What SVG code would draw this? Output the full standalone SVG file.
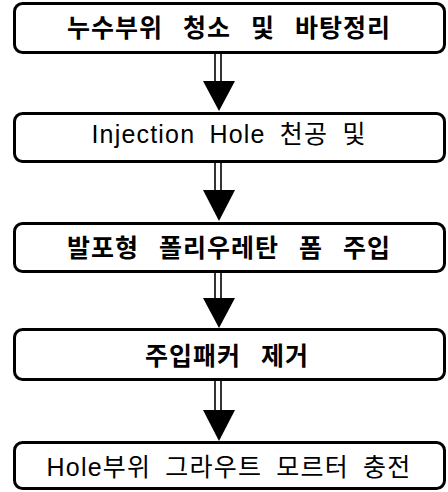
<svg xmlns="http://www.w3.org/2000/svg" width="448" height="492" viewBox="0 0 448 492">
<style>
.box{fill:#fff;stroke:#000;stroke-width:3}
.t{font-family:'Liberation Sans','Noto Sans CJK KR',sans-serif;font-size:25px;text-anchor:middle;fill:#000}
.b{font-weight:bold;letter-spacing:1px;word-spacing:12px}
.r{font-weight:normal;letter-spacing:1.2px;word-spacing:6px}
.shaft{stroke:#000;stroke-width:1.6;fill:none}
.head{fill:#000}
</style>
<rect width="448" height="492" fill="#fff"/>
<g id="connectors">
<g id="c1"><line class="shaft" x1="215" y1="54" x2="215" y2="82"/><line class="shaft" x1="221" y1="54" x2="221" y2="82"/><polygon class="head" points="203,81 235,81 219,111"/></g>
<g id="c2"><line class="shaft" x1="215" y1="163" x2="215" y2="191"/><line class="shaft" x1="221" y1="163" x2="221" y2="191"/><polygon class="head" points="203,190 235,190 219,221"/></g>
<g id="c3"><line class="shaft" x1="215" y1="273" x2="215" y2="299"/><line class="shaft" x1="221" y1="273" x2="221" y2="299"/><polygon class="head" points="203,298 235,298 219,328"/></g>
<g id="c4"><line class="shaft" x1="215" y1="381" x2="215" y2="411"/><line class="shaft" x1="221" y1="381" x2="221" y2="411"/><polygon class="head" points="203,410 235,410 219,441"/></g>
</g>
<g id="n1"><rect class="box" x="14.5" y="3.5" width="430" height="49" rx="8"/><text class="t b" x="229" y="37">누수부위 청소 및 바탕정리</text></g>
<g id="n2"><rect class="box" x="14.5" y="113.5" width="430" height="48" rx="8"/><text class="t r" x="229" y="143">Injection Hole 천공 및</text></g>
<g id="n3"><rect class="box" x="14.5" y="223.5" width="430" height="48" rx="8"/><text class="t b" x="229" y="257">발포형 폴리우레탄 폼 주입</text></g>
<g id="n4"><rect class="box" x="14.5" y="329.5" width="430" height="50" rx="8"/><text class="t b" x="227" y="365">주입패커 제거</text></g>
<g id="n5"><rect class="box" x="14.5" y="442.5" width="430" height="46" rx="8"/><text class="t r" x="229" y="476">Hole부위 그라우트 모르터 충전</text></g>
</svg>
